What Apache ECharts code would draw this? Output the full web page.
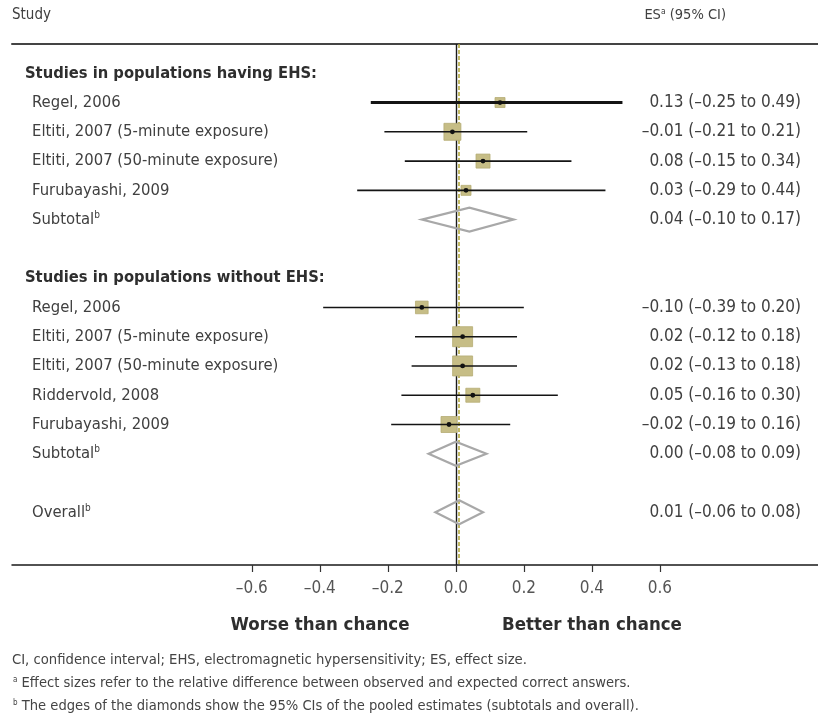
<!DOCTYPE html>
<html>
<head>
<meta charset="utf-8">
<script src="https://cdn.jsdelivr.net/npm/echarts@6/dist/echarts.min.js"></script>
<style>
  html, body { margin: 0; padding: 0; background: #fff; }
  #chart { width: 818px; height: 724px; }
</style>
</head>
<body>
<div id="chart"></div>
<script>
// Forest plot: effect sizes of EHS provocation studies

const groupTitles = ['Studies in populations having EHS:', 'Studies in populations without EHS:'];

const ehsStudies = ['Regel, 2006', 'Eltiti, 2007 (5-minute exposure)', 'Eltiti, 2007 (50-minute exposure)', 'Furubayashi, 2009'];
const ehsEstimate = [0.13, -0.01, 0.08, 0.03];
const ehsLower = [-0.25, -0.21, -0.15, -0.29];
const ehsUpper = [0.49, 0.21, 0.34, 0.44];
const ehsWeight = [25, 72, 49, 25];

const nonEhsStudies = ['Regel, 2006', 'Eltiti, 2007 (5-minute exposure)', 'Eltiti, 2007 (50-minute exposure)', 'Riddervold, 2008', 'Furubayashi, 2009'];
const nonEhsEstimate = [-0.10, 0.02, 0.02, 0.05, -0.02];
const nonEhsLower = [-0.39, -0.12, -0.13, -0.16, -0.19];
const nonEhsUpper = [0.20, 0.18, 0.18, 0.30, 0.16];
const nonEhsWeight = [40, 100, 100, 49, 64];

const pooledLabels = ['Subtotal', 'Subtotal', 'Overall'];
const pooledEstimate = [0.04, 0.00, 0.01];
const pooledLower = [-0.10, -0.08, -0.06];
const pooledUpper = [0.17, 0.09, 0.08];

const xTicks = [-0.6, -0.4, -0.2, 0.0, 0.2, 0.4, 0.6];

const FONT = '"DejaVu Sans Condensed", "Liberation Sans Narrow", "Liberation Sans", sans-serif';
const TEXT = '#404040';

// ----- row layout (one row per line of the table) -----
const studyRows = [];
const titleRows = [];
const pooledRows = [];
let r = 0;
titleRows.push([r++, 0]);
ehsStudies.forEach((name, i) => {
  studyRows.push([ehsEstimate[i], ehsLower[i], ehsUpper[i], r++, ehsWeight[i], i === 0 ? 3 : 1.6, name]);
});
pooledRows.push([pooledEstimate[0], pooledLower[0], pooledUpper[0], r++, pooledLabels[0]]);
r++;
titleRows.push([r++, 1]);
nonEhsStudies.forEach((name, i) => {
  studyRows.push([nonEhsEstimate[i], nonEhsLower[i], nonEhsUpper[i], r++, nonEhsWeight[i], 1.6, name]);
});
pooledRows.push([pooledEstimate[1], pooledLower[1], pooledUpper[1], r++, pooledLabels[1]]);
r++;
pooledRows.push([pooledEstimate[2], pooledLower[2], pooledUpper[2], r++, pooledLabels[2]]);

const fmt = v => (v < 0 ? '\u2013' : '') + Math.abs(v).toFixed(2);
const ciText = (e, lo, hi) => fmt(e) + ' (' + fmt(lo) + ' to ' + fmt(hi) + ')';

const LABEL_X = 32;
const VALUE_X = 801;
const LABEL_FONT = '16.5px ' + FONT;
const VALUE_FONT = '17px ' + FONT;

const labelText = (text, y) => ({
  type: 'text', x: LABEL_X, y: y,
  style: { text: text, font: LABEL_FONT, fill: TEXT, verticalAlign: 'middle',
           rich: { sup: { font: '10px ' + FONT, fill: TEXT, padding: [0, 0, 8, 0] } } }
});
const valueText = (text, y) => ({
  type: 'text', x: VALUE_X, y: y,
  style: { text: text, font: VALUE_FONT, fill: TEXT, align: 'right', verticalAlign: 'middle' }
});

function renderStudy(params, api) {
  const est = api.value(0), lo = api.value(1), hi = api.value(2), row = api.value(3);
  const side = 2 * Math.sqrt(api.value(4));
  const lw = api.value(5);
  const item = studyRows[params.dataIndex];
  const pLo = api.coord([lo, row]), pHi = api.coord([hi, row]), pE = api.coord([est, row]);
  return {
    type: 'group',
    children: [
      { type: 'rect', shape: { x: pE[0] - side / 2, y: pE[1] - side / 2, width: side, height: side },
        style: { fill: '#c6bd86', stroke: '#b5ac74', lineWidth: 0.8 } },
      { type: 'line', shape: { x1: pLo[0], y1: pLo[1], x2: pHi[0], y2: pHi[1] },
        style: { stroke: '#141414', lineWidth: lw } },
      { type: 'circle', shape: { cx: pE[0], cy: pE[1], r: 2.4 }, style: { fill: '#111' } },
      labelText(item[6], pE[1]),
      valueText(ciText(est, lo, hi), pE[1])
    ]
  };
}

function renderPooled(params, api) {
  const est = api.value(0), lo = api.value(1), hi = api.value(2), row = api.value(3);
  const item = pooledRows[params.dataIndex];
  const pLo = api.coord([lo, row]), pHi = api.coord([hi, row]), pE = api.coord([est, row]);
  const h = 12;
  return {
    type: 'group',
    children: [
      { type: 'polygon',
        shape: { points: [[pLo[0], pLo[1]], [pE[0], pE[1] - h], [pHi[0], pHi[1]], [pE[0], pE[1] + h]] },
        style: { fill: 'rgba(255,255,255,0)', stroke: '#a8a8a8', lineWidth: 2.2 } },
      labelText(item[4] + '{sup|b}', pE[1]),
      valueText(ciText(est, lo, hi), pE[1])
    ]
  };
}

function renderTitle(params, api) {
  const row = api.value(0);
  const p = api.coord([0, row]);
  return {
    type: 'text', x: 25, y: p[1],
    style: { text: groupTitles[api.value(1)], font: 'bold 16.4px ' + FONT, fill: '#2e2e2e', verticalAlign: 'middle' }
  };
}

const chart = echarts.init(document.getElementById('chart'), null, { renderer: 'canvas' });

chart.setOption({
  animation: false,
  backgroundColor: '#fff',
  grid: { left: 12, right: 0, top: 44, bottom: 159 },
  xAxis: [
    {
      type: 'value', position: 'bottom', min: -1.305, max: 1.065,
      axisLine: { show: true, onZero: false, lineStyle: { color: '#1a1a1a', width: 1.5 } },
      axisTick: { show: true, customValues: xTicks, length: 7, lineStyle: { color: '#333', width: 1.2 } },
      axisLabel: { show: true, customValues: xTicks, margin: 15, fontSize: 17, fontFamily: FONT, color: '#555',
                   formatter: v => (v < 0 ? '\u2013' : '') + Math.abs(v).toFixed(1) },
      splitLine: { show: false }
    },
    {
      type: 'value', position: 'top', min: -1.305, max: 1.065,
      axisLine: { show: true, onZero: false, lineStyle: { color: '#444', width: 2 } },
      axisTick: { show: false }, axisLabel: { show: false }, splitLine: { show: false }
    }
  ],
  yAxis: { type: 'value', inverse: true, min: -1, max: 16.8, show: false },
  series: [
    {
      type: 'custom', name: 'studies', xAxisIndex: 0, renderItem: renderStudy,
      data: studyRows.map(d => d.slice(0, 6)), z: 5,
      markLine: {
        silent: true, symbol: 'none', label: { show: false },
        data: [
          { xAxis: 0, lineStyle: { color: '#1a1a1a', width: 1.4, type: 'solid' } },
          { xAxis: pooledEstimate[2], lineStyle: { color: '#b0a535', width: 1.5, type: [4, 2] } }
        ]
      }
    },
    { type: 'custom', name: 'pooled', xAxisIndex: 0, renderItem: renderPooled,
      data: pooledRows.map(d => d.slice(0, 4)), z: 6 },
    { type: 'custom', name: 'titles', xAxisIndex: 0, renderItem: renderTitle, data: titleRows, z: 6 }
  ],
  graphic: [
    { type: 'text', x: 12, y: 15, style: { text: 'Study', font: '15px ' + FONT, fill: TEXT, verticalAlign: 'middle' } },
    { type: 'text', x: 726, y: 15,
      style: { text: 'ES{sup|a} (95% CI)', font: '14.5px ' + FONT, fill: TEXT, align: 'right', verticalAlign: 'middle',
               rich: { sup: { font: '8.5px ' + FONT, fill: TEXT, padding: [0, 0, 7, 0] } } } },
    { type: 'text', x: 320, y: 625,
      style: { text: 'Worse than chance', font: 'bold 18.5px ' + FONT, fill: '#2e2e2e', align: 'center', verticalAlign: 'middle' } },
    { type: 'text', x: 592, y: 625,
      style: { text: 'Better than chance', font: 'bold 18.5px ' + FONT, fill: '#2e2e2e', align: 'center', verticalAlign: 'middle' } },
    { type: 'text', x: 12, y: 660,
      style: { text: 'CI, confidence interval; EHS, electromagnetic hypersensitivity; ES, effect size.',
               font: '14.7px ' + FONT, fill: '#444', verticalAlign: 'middle' } },
    { type: 'text', x: 13, y: 683,
      style: { text: '{sup|a} Effect sizes refer to the relative difference between observed and expected correct answers.',
               font: '14.6px ' + FONT, fill: '#444', verticalAlign: 'middle',
               rich: { sup: { font: '8px ' + FONT, fill: '#444', padding: [0, 0, 7, 0] } } } },
    { type: 'text', x: 13, y: 706,
      style: { text: '{sup|b} The edges of the diamonds show the 95% CIs of the pooled estimates (subtotals and overall).',
               font: '14.6px ' + FONT, fill: '#444', verticalAlign: 'middle',
               rich: { sup: { font: '8px ' + FONT, fill: '#444', padding: [0, 0, 7, 0] } } } }
  ]
});
</script>
</body>
</html>
